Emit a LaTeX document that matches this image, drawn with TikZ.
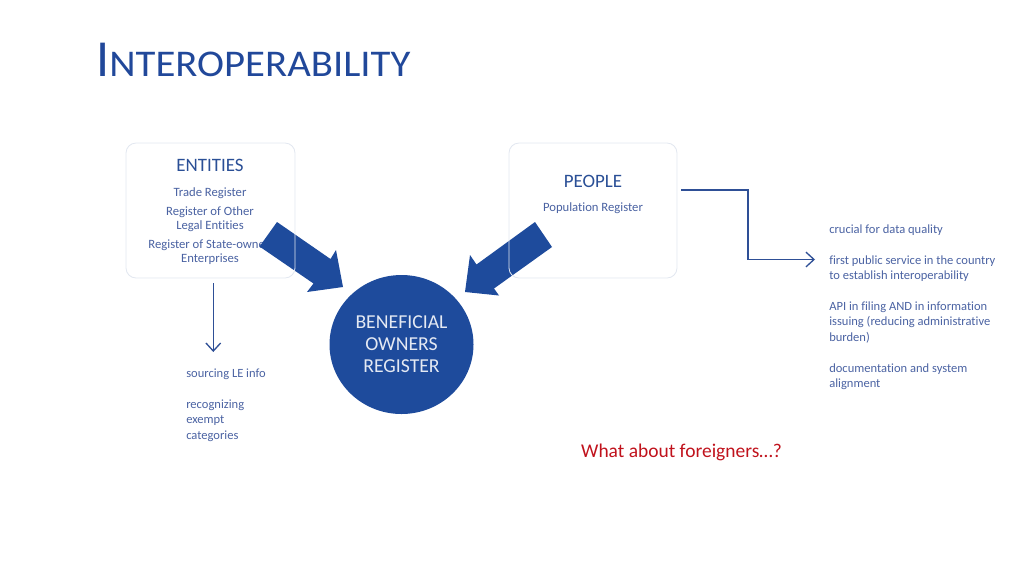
\documentclass[tikz,border=0pt]{standalone}
\usepackage{fontspec}
\setmainfont{Carlito}[Ligatures=NoCommon]
\newfontfamily\titlesc[FakeStretch=1.08]{Carlito}
\usetikzlibrary{arrows.meta,shapes.geometric}
\definecolor{titleblue}{HTML}{21489A}
\definecolor{headblue}{HTML}{2A4F96}
\definecolor{txtblue}{HTML}{4A62A2}
\definecolor{fillblue}{HTML}{1E4B9C}
\definecolor{linkblue}{HTML}{2E4F96}
\definecolor{boxline}{HTML}{E2E7F0}
\definecolor{redtxt}{HTML}{C0121C}
\tikzset{
  px/.style={x=0.75pt,y=-0.75pt},
  boxstyle/.style={draw=boxline,line width=0.6pt,rounded corners=7.5pt},
  headtxt/.style={text=headblue,font=\fontsize{14.2}{15}\selectfont,inner sep=0pt},
  smalltxt/.style={text=txtblue,font=\fontsize{9.5}{10.5}\selectfont,inner sep=0pt,anchor=base},
  listtxt/.style={text=txtblue,font=\fontsize{9.4}{11.6}\selectfont,inner sep=0pt,anchor=base west},
  circtxt/.style={text=white!88!fillblue,font=\fontsize{14.8}{16.5}\selectfont,inner sep=0pt,anchor=base},
  blockarrow/.style={fill=fillblue,draw=none},
  link/.style={draw=linkblue,line width=1pt,-{Straight Barb[length=6pt,width=11pt,line width=1pt]}},
}
\begin{document}
\begin{tikzpicture}[px]
\useasboundingbox (0,0) rectangle (1024,576);
% title
\node[anchor=base west,inner sep=0pt,text=titleblue] (title) at (96,76)
  {\fontsize{39}{40}\selectfont I\titlesc\fontsize{28.3}{30}\selectfont NTEROPERABILITY};
% boxes (fills)
\fill[white] (126,143) rectangle (295,278);
\fill[white] (509,143) rectangle (677,278);
% entities text
\node[headtxt] (ent) at (210,165) {ENTITIES};
\node[smalltxt] (tr) at (210,196) {Trade Register};
\node[smalltxt] (ol1) at (210,215.5) {Register of Other};
\node[smalltxt] (ol2) at (210,229.5) {Legal Entities};
\node[smalltxt] (so1) at (210,248.5) {Register of State-owned};
\node[smalltxt] (so2) at (210,262.5) {Enterprises};
% people text
\node[headtxt] (peo) at (593,181) {PEOPLE};
\node[smalltxt] (pop) at (593,211.5) {Population Register};
% block arrows
\path[blockarrow] (277,222) -- (330.5,259) -- (336,250) -- (343,287) -- (307,292) -- (313.5,283.5) -- (259.5,246.5) -- cycle;
\path[blockarrow] (535,222) -- (476.5,264.5) -- (470,255) -- (465,292) -- (499,295.5) -- (494,288.5) -- (552,247) -- cycle;
% box borders
\draw[boxstyle] (126,143) rectangle (295,278);
\draw[boxstyle] (509,143) rectangle (677,278);
\node[inner sep=0pt,minimum width=169*0.75pt,minimum height=135*0.75pt] (entbox) at (210.5,210.5) {};
\node[inner sep=0pt,minimum width=168*0.75pt,minimum height=135*0.75pt] (peobox) at (593,210.5) {};
% circle
\node[fill=fillblue,ellipse,draw=none,minimum width=144*0.75pt,minimum height=139*0.75pt,inner sep=0pt] (bor) at (401.5,344.5) {};
\node[circtxt] (bt1) at (401.5,328) {BENEFICIAL};
\node[circtxt] (bt2) at (401.5,350) {OWNERS};
\node[circtxt] (bt3) at (401.5,372) {REGISTER};
% left down arrow
\coordinate (ldtop) at (213.3,283);
\coordinate (ldend) at (213.3,352);
\draw[link] (ldtop) -- (ldend);
% right elbow arrow
\coordinate (rstart) at (681,190);
\coordinate (rend) at (815,259.5);
\draw[link] (rstart) -- (748,190) -- (748,259.5) -- (rend);
% left list
\node[listtxt] (l1) at (186,377) {sourcing LE info};
\node[listtxt] (l2) at (186,408) {recognizing};
\node[listtxt] (l3) at (186,423.5) {exempt};
\node[listtxt] (l4) at (186,439) {categories};
% right list
\node[listtxt] (r1) at (829,233) {crucial for data quality};
\node[listtxt] (r2a) at (829,264) {first public service in the country};
\node[listtxt] (r2b) at (829,279.5) {to establish interoperability};
\node[listtxt] (r3a) at (829,310) {API in filing AND in information};
\node[listtxt] (r3b) at (829,325.5) {issuing (reducing administrative};
\node[listtxt] (r3c) at (829,341) {burden)};
\node[listtxt] (r4a) at (829,372) {documentation and system};
\node[listtxt] (r4b) at (829,387.5) {alignment};
% red question
\node[text=redtxt,font=\fontsize{14.6}{16}\selectfont,anchor=base,inner sep=0pt] (q) at (681.5,457) {What about foreigners…?};
\end{tikzpicture}
\end{document}
